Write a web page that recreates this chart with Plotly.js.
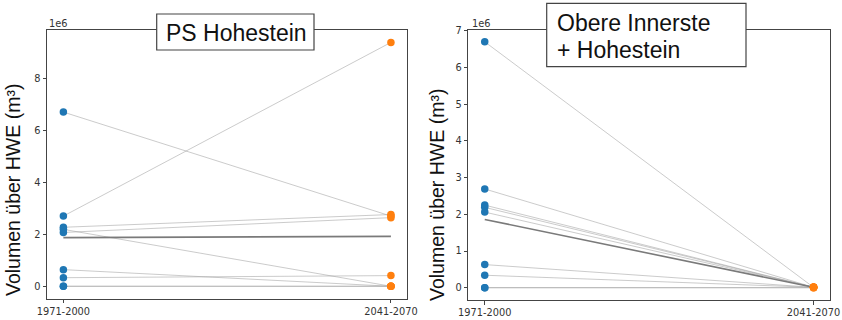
<!DOCTYPE html>
<html>
<head>
<meta charset="utf-8">
<script src="https://cdn.plot.ly/plotly-3.0.1.min.js"></script>
<style>html,body{margin:0;padding:0;background:#fff;}#chart{width:842px;height:320px;}</style>
</head>
<body>
<div id="chart"></div>
<script>
// ---- data (values in units of 1e6 m³) ----
const periods = ["1971-2000", "2041-2070"];

// Panel 1: PS Hohestein (9 members)
const hohHist = [6.70, 2.70, 2.27, 2.19, 2.07, 0.64, 0.33, 0.00, 0.00];
const hohFut  = [2.70, 9.38, 2.76, 0.00, 2.64, 0.00, 0.41, 0.00, 0.00];
const hohMean = [1.87, 1.92];

// Panel 2: Obere Innerste + Hohestein
const oihHist = [6.70, 2.69, 2.25, 2.19, 2.06, 0.63, 0.34, 0.00, 0.00];
const oihFut  = [0.01, 0.01, 0.01, 0.01, 0.01, 0.01, 0.01, 0.00, 0.00];
const oihMean = [1.86, 0.01];

const yTicks1 = [0, 2, 4, 6, 8];
const yTicks2 = [0, 1, 2, 3, 4, 5, 6, 7];
const title1 = "PS Hohestein";
const title2a = "Obere Innerste";
const title2b = "+ Hohestein";
const yTitle = "Volumen über HWE (m³)";
const expLabel = "1e6";

// ---- helpers: pixel -> paper ----
const W = 842, H = 320;
const px = x => x / W;
const py = y => 1 - y / H;

const BLUE = "#1f77b4", ORANGE = "#ff7f0e";
const LINE = "rgba(160,160,160,0.55)";
const MEAN = "#7a7a7a";

function panelTraces(hist, fut, mean, xa, ya) {
  const t = [];
  for (let i = 0; i < hist.length; i++) {
    t.push({x: periods, y: [hist[i], fut[i]], xaxis: xa, yaxis: ya, type: "scatter",
      mode: "lines", line: {color: LINE, width: 1}, hoverinfo: "skip", showlegend: false});
  }
  t.push({x: periods, y: mean, xaxis: xa, yaxis: ya, type: "scatter", mode: "lines",
    line: {color: MEAN, width: 1.6}, hoverinfo: "skip", showlegend: false});
  t.push({x: hist.map(() => periods[0]), y: hist, xaxis: xa, yaxis: ya, type: "scatter",
    mode: "markers", marker: {color: BLUE, size: 7.5}, showlegend: false});
  t.push({x: fut.map(() => periods[1]), y: fut, xaxis: xa, yaxis: ya, type: "scatter",
    mode: "markers", marker: {color: ORANGE, size: 7.5}, showlegend: false});
  return t;
}

const data = [].concat(
  panelTraces(hohHist, hohFut, hohMean, "x", "y"),
  panelTraces(oihHist, oihFut, oihMean, "x2", "y2")
);

const tickFont = {family: "DejaVu Sans", size: 9.8, color: "#333"};
const axisCommon = {
  showline: true, mirror: true, linecolor: "#444", linewidth: 1,
  ticks: "outside", ticklen: 3.5, tickwidth: 1, tickcolor: "#444",
  showgrid: false, zeroline: false, tickfont: tickFont, fixedrange: true
};

const layout = {
  width: W, height: H,
  margin: {l: 0, r: 0, t: 0, b: 0},
  paper_bgcolor: "#fff", plot_bgcolor: "#fff",
  showlegend: false,
  xaxis: Object.assign({}, axisCommon, {domain: [px(47), px(407.3)], type: "category",
    range: [-0.05, 1.05], anchor: "y"}),
  yaxis: Object.assign({}, axisCommon, {domain: [py(298.5), py(30.2)], range: [-0.47, 9.85],
    tickvals: yTicks1, ticktext: yTicks1.map(String), anchor: "x"}),
  xaxis2: Object.assign({}, axisCommon, {domain: [px(468.3), px(830)], type: "category",
    range: [-0.05, 1.05], anchor: "y2"}),
  yaxis2: Object.assign({}, axisCommon, {domain: [py(300), py(29.5)], range: [-0.335, 7.035],
    tickvals: yTicks2, ticktext: yTicks2.map(String), anchor: "x2"}),
  shapes: [
    {type: "rect", xref: "paper", yref: "paper", x0: px(156.7), x1: px(314), y0: py(50), y1: py(14),
      line: {color: "#444", width: 1.2}, fillcolor: "#fff", layer: "above"},
    {type: "rect", xref: "paper", yref: "paper", x0: px(546.7), x1: px(746), y0: py(66.7), y1: py(3.3),
      line: {color: "#444", width: 1.2}, fillcolor: "#fff", layer: "above"}
  ],
  annotations: [
    {text: title1, xref: "paper", yref: "paper", x: px(164), y: py(33), xanchor: "left", yanchor: "middle",
      showarrow: false, font: {family: "Liberation Sans, Arial", size: 23, color: "#111"}},
    {text: title2a, xref: "paper", yref: "paper", x: px(555), y: py(22.5), xanchor: "left", yanchor: "middle",
      showarrow: false, font: {family: "Liberation Sans, Arial", size: 23, color: "#111"}},
    {text: title2b, xref: "paper", yref: "paper", x: px(555), y: py(50), xanchor: "left", yanchor: "middle",
      showarrow: false, font: {family: "Liberation Sans, Arial", size: 23, color: "#111"}},
    {text: yTitle, xref: "paper", yref: "paper", x: px(13), y: py(190), xanchor: "center", yanchor: "middle",
      textangle: -90, showarrow: false, font: {family: "Liberation Sans, Arial", size: 19.5, color: "#111"}},
    {text: yTitle, xref: "paper", yref: "paper", x: px(437), y: py(195), xanchor: "center", yanchor: "middle",
      textangle: -90, showarrow: false, font: {family: "Liberation Sans, Arial", size: 19.5, color: "#111"}},
    {text: expLabel, xref: "paper", yref: "paper", x: px(46.7), y: py(23.5), xanchor: "left", yanchor: "middle",
      showarrow: false, font: tickFont},
    {text: expLabel, xref: "paper", yref: "paper", x: px(470), y: py(23.5), xanchor: "left", yanchor: "middle",
      showarrow: false, font: tickFont}
  ]
};

Plotly.newPlot("chart", data, layout, {staticPlot: true, displayModeBar: false});
</script>
</body>
</html>
